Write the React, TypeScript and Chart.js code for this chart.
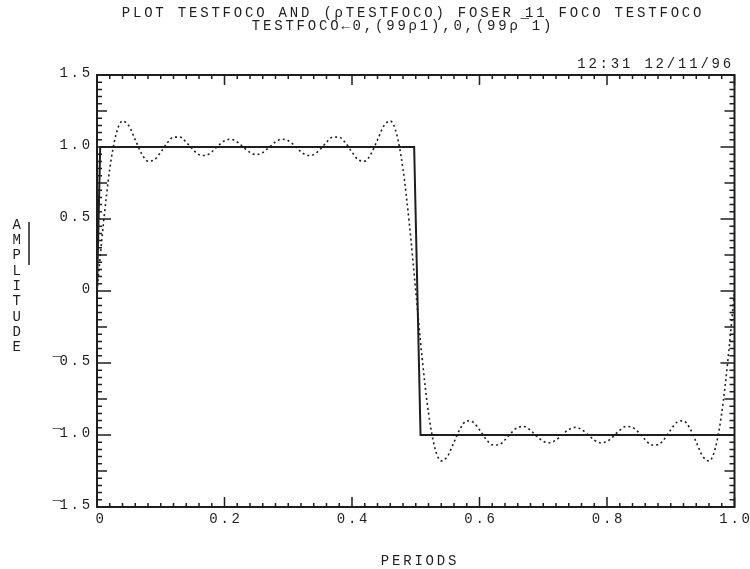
import React, { useEffect, useRef } from "react";
import { Chart, registerables } from "chart.js";

Chart.register(...registerables);

// ---- text ----
const TITLE_LINE_1 = "PLOT TESTFOCO AND (\u03C1TESTFOCO) FOSER 11 FOCO TESTFOCO";
const TITLE_LINE_2 = "TESTFOCO\u21900,(99\u03C11),0,(99\u03C1\u00AF1)";
const TIMESTAMP = "12:31 12/11/96";
const X_TITLE = "PERIODS";
const Y_TITLE = "AMPLITUDE";

// ---- ticks ----
const X_TICK_VALUES = [0, 0.2, 0.4, 0.6, 0.8, 1.0];
const X_TICK_LABELS = ["0", "0.2", "0.4", "0.6", "0.8", "1.0"];
const Y_TICK_VALUES = [1.5, 1.0, 0.5, 0, -0.5, -1.0, -1.5];
const Y_TICK_LABELS = ["1.5", "1.0", "0.5", "0", "\u00AF0.5", "\u00AF1.0", "\u00AF1.5"];

// ---- series: square wave TESTFOCO (solid) ----
const SQUARE_X = [0, 0.005, 0.4975, 0.5025, 0.5075, 1.0];
const SQUARE_Y = [0, 1, 1, 0, -1, -1];

// ---- series: FOSER 11 (dotted) ----
const FOURIER_X = [
  0, 0.01, 0.02, 0.03, 0.04, 0.05, 0.06, 0.07, 0.08, 0.09, 0.1,
  0.11, 0.12, 0.13, 0.14, 0.15, 0.16, 0.17, 0.18, 0.19, 0.2,
  0.21, 0.22, 0.23, 0.24, 0.25, 0.26, 0.27, 0.28, 0.29, 0.3,
  0.31, 0.32, 0.33, 0.34, 0.35, 0.36, 0.37, 0.38, 0.39, 0.4,
  0.41, 0.42, 0.43, 0.44, 0.45, 0.46, 0.47, 0.48, 0.49, 0.5,
  0.51, 0.52, 0.53, 0.54, 0.55, 0.56, 0.57, 0.58, 0.59, 0.6,
  0.61, 0.62, 0.63, 0.64, 0.65, 0.66, 0.67, 0.68, 0.69, 0.7,
  0.71, 0.72, 0.73, 0.74, 0.75, 0.76, 0.77, 0.78, 0.79, 0.8,
  0.81, 0.82, 0.83, 0.84, 0.85, 0.86, 0.87, 0.88, 0.89, 0.9,
  0.91, 0.92, 0.93, 0.94, 0.95, 0.96, 0.97, 0.98, 0.99, 1.0,
];
const FOURIER_Y = [
  0, 0.465, 0.847, 1.09, 1.18, 1.147, 1.05, 0.953, 0.902, 0.911, 0.964,
  1.028, 1.068, 1.069, 1.033, 0.984, 0.947, 0.941, 0.967, 1.009, 1.044,
  1.054, 1.035, 0.997, 0.962, 0.947, 0.962, 0.997, 1.035, 1.054, 1.044,
  1.009, 0.967, 0.941, 0.947, 0.984, 1.033, 1.069, 1.068, 1.028, 0.964,
  0.911, 0.902, 0.953, 1.05, 1.147, 1.18, 1.09, 0.847, 0.465, 0,
  -0.465, -0.847, -1.09, -1.18, -1.147, -1.05, -0.953, -0.902, -0.911, -0.964,
  -1.028, -1.068, -1.069, -1.033, -0.984, -0.947, -0.941, -0.967, -1.009, -1.044,
  -1.054, -1.035, -0.997, -0.962, -0.947, -0.962, -0.997, -1.035, -1.054, -1.044,
  -1.009, -0.967, -0.941, -0.947, -0.984, -1.033, -1.069, -1.068, -1.028, -0.964,
  -0.911, -0.902, -0.953, -1.05, -1.147, -1.18, -1.09, -0.847, -0.465, 0,
];

const INK = "#1e1e1e";
const FONT = '14px "Liberation Mono", "DejaVu Sans Mono", monospace';
const SPACING = "2.8px";

const aplAxesPlugin = {
  id: "aplAxes",
  beforeDatasetsDraw(chart: any) {
    const { ctx, chartArea: a, scales } = chart;
    const x = scales.x;
    const y = scales.y;
    ctx.save();
    ctx.strokeStyle = INK;
    ctx.lineWidth = 2;
    ctx.strokeRect(a.left, a.top, a.right - a.left, a.bottom - a.top);
    ctx.lineWidth = 1.5;
    ctx.beginPath();
    for (let i = 0; i <= 50; i++) {
      const px = x.getPixelForValue(i * 0.02);
      const len = i % 10 === 0 ? 10 : 4;
      ctx.moveTo(px, a.bottom);
      ctx.lineTo(px, a.bottom - len);
      ctx.moveTo(px, a.top);
      ctx.lineTo(px, a.top + len);
    }
    for (let i = 0; i <= 60; i++) {
      const py = y.getPixelForValue(-1.5 + i * 0.05);
      const len = i % 10 === 0 ? 14 : i % 5 === 0 ? 10 : 5;
      ctx.moveTo(a.left, py);
      ctx.lineTo(a.left + len, py);
      ctx.moveTo(a.right, py);
      ctx.lineTo(a.right - len, py);
    }
    ctx.stroke();
    ctx.restore();
  },
  afterDraw(chart: any) {
    const { ctx, scales } = chart;
    const x = scales.x;
    const y = scales.y;
    ctx.save();
    ctx.fillStyle = INK;
    ctx.font = FONT;
    (ctx as any).letterSpacing = SPACING;
    ctx.textBaseline = "middle";

    ctx.textAlign = "center";
    ctx.fillText(TITLE_LINE_1, 413, 13);
    ctx.fillText(TITLE_LINE_2, 403, 26);

    ctx.textAlign = "right";
    ctx.fillText(TIMESTAMP, 734, 64);

    Y_TICK_LABELS.forEach((lab, i) => {
      const py = y.getPixelForValue(Y_TICK_VALUES[i]) - 2;
      ctx.textAlign = "right";
      if (lab.charAt(0) === "\u00AF") {
        const rest = lab.slice(1);
        ctx.fillText(rest, 93, py);
        const w = ctx.measureText(rest).width;
        ctx.textAlign = "center";
        ctx.fillText("\u00AF", 93 - w - 1, py + 3);
      } else {
        ctx.fillText(lab, 93, py);
      }
    });

    ctx.textAlign = "center";
    X_TICK_LABELS.forEach((lab, i) => {
      const px = x.getPixelForValue(X_TICK_VALUES[i]);
      ctx.fillText(lab, px + (i === 0 ? 4 : 1.5), 519);
    });

    ctx.fillText(X_TITLE, 420, 561);
    for (let i = 0; i < Y_TITLE.length; i++) {
      ctx.fillText(Y_TITLE.charAt(i), 18, 225 + i * 15.3);
    }
    ctx.strokeStyle = INK;
    ctx.lineWidth = 1.5;
    ctx.beginPath();
    ctx.moveTo(29, 222);
    ctx.lineTo(29, 265);
    ctx.stroke();
    ctx.restore();
  },
};

export default function App() {
  const ref = useRef<HTMLCanvasElement | null>(null);
  useEffect(() => {
    if (!ref.current) return;
    const chart = new Chart(ref.current, {
      type: "line",
      data: {
        datasets: [
          {
            label: "TESTFOCO",
            data: SQUARE_X.map((v, i) => ({ x: v, y: SQUARE_Y[i] })),
            borderColor: INK,
            borderWidth: 2,
            pointRadius: 0,
            tension: 0,
            order: 2,
          },
          {
            label: "FOSER 11",
            data: FOURIER_X.map((v, i) => ({ x: v, y: FOURIER_Y[i] })),
            borderColor: INK,
            borderWidth: 1.6,
            borderDash: [2, 3],
            pointRadius: 0,
            cubicInterpolationMode: "monotone",
            order: 1,
          },
        ],
      },
      options: {
        animation: false,
        responsive: false,
        maintainAspectRatio: false,
        layout: { padding: { left: 97, right: 15.5, top: 75, bottom: 62 } },
        plugins: { legend: { display: false }, tooltip: { enabled: false }, title: { display: false } },
        scales: {
          x: { type: "linear", min: 0, max: 1, display: false },
          y: { type: "linear", min: -1.5, max: 1.5, display: false },
        },
      },
      plugins: [aplAxesPlugin],
    } as any);
    return () => chart.destroy();
  }, []);
  return (
    <div style={{ position: "absolute", left: 0, top: 0, width: 750, height: 569, background: "#fff" }}>
      <canvas ref={ref} width={750} height={569} style={{ display: "block" }} />
    </div>
  );
}
